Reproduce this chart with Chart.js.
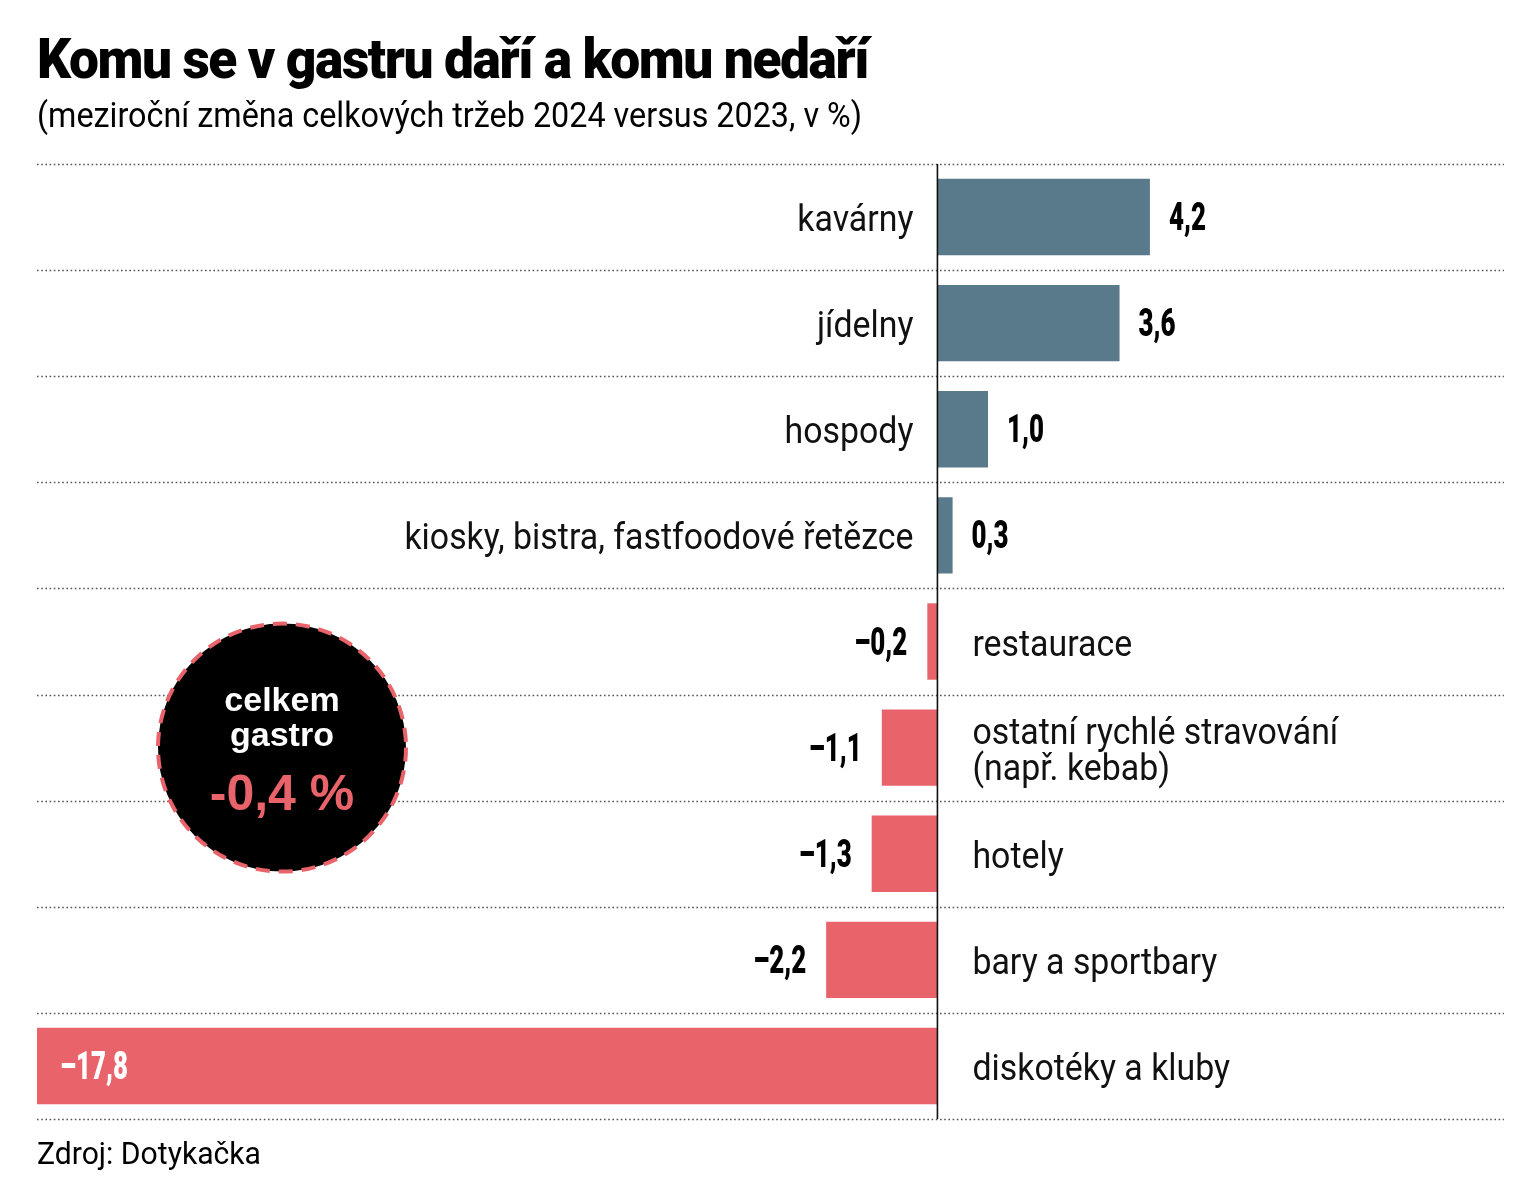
<!DOCTYPE html>
<html lang="cs"><head><meta charset="utf-8">
<script src="https://cdn.jsdelivr.net/npm/chart.js@4.4.1/dist/chart.umd.min.js"></script>
<style>
html,body{margin:0;padding:0;background:#fff;}
body{width:1536px;height:1199px;position:relative;overflow:hidden;}
#c{position:absolute;left:0;top:0;}
.t{position:absolute;left:37px;white-space:nowrap;line-height:1;transform-origin:0 0;color:#000;font-family:Roboto,"Liberation Sans",sans-serif;}
#title{font-weight:900;font-size:56px;top:31px;letter-spacing:-1.5px;}
#sub{font-weight:400;font-size:35px;top:98px;}
#src{font-weight:400;font-size:31px;top:1138px;}
.ct{position:absolute;left:132px;width:300px;text-align:center;white-space:nowrap;line-height:1;font-family:"Liberation Sans",Arial,sans-serif;font-weight:700;z-index:2;}
#c1{font-size:34px;top:682px;color:#fff;}
#c2{font-size:34px;top:717px;color:#fff;}
#c3{font-size:50px;top:768px;color:#E9636A;}
</style></head>
<body>
<canvas id="c" width="1536" height="1199"></canvas>
<div class="t" id="title">Komu se v gastru daří a komu nedaří</div>
<div class="t" id="sub">(meziroční změna celkových tržeb 2024 versus 2023, v %)</div>
<div class="t" id="src">Zdroj: Dotykačka</div>
<div class="ct" id="c1">celkem</div>
<div class="ct" id="c2">gastro</div>
<div class="ct" id="c3">-0,4 %</div>
<script>
// ---- data ----
const categories = [
  "kavárny",
  "jídelny",
  "hospody",
  "kiosky, bistra, fastfoodové řetězce",
  "restaurace",
  ["ostatní rychlé stravování", "(např. kebab)"],
  "hotely",
  "bary a sportbary",
  "diskotéky a kluby"
];
const values = [4.2, 3.6, 1.0, 0.3, -0.2, -1.1, -1.3, -2.2, -17.8];
const totalValue = -0.4;
const xMin = -17.8;
const xMax = 11.2;

const POS = '#587A8A', NEG = '#E9636A';

function fmt(v){
  const s = Math.abs(v).toFixed(1).replace('.', ',');
  return v < 0 ? '\u2013' + s : s;
}

function fitWidth(el, target){
  const w = el.getBoundingClientRect().width;
  el.style.transform = 'scaleX(' + (target / w) + ')';
}

function drawText(ctx, text, x, y, align, sx){
  ctx.save();
  ctx.translate(x, y);
  ctx.scale(sx, 1);
  ctx.textAlign = align;
  ctx.textBaseline = 'alphabetic';
  ctx.fillText(text, 0, 0);
  ctx.restore();
}

const CAT_FONT = '400 37px Roboto';
const VAL_FONT = '900 38px Roboto';

const labelPlugin = {
  id: 'labelPlugin',
  beforeDatasetsDraw(chart){
    const ctx = chart.ctx, a = chart.chartArea;
    const n = categories.length, step = (a.bottom - a.top) / n;
    ctx.save();
    ctx.strokeStyle = '#555';
    ctx.lineWidth = 1.5;
    ctx.setLineDash([1.6, 2.6]);
    for (let i = 0; i <= n; i++){
      const y = Math.round(a.top + i * step) + 0.5;
      ctx.beginPath(); ctx.moveTo(a.left, y); ctx.lineTo(a.right, y); ctx.stroke();
    }
    ctx.restore();
  },
  afterDatasetsDraw(chart){
    const ctx = chart.ctx, a = chart.chartArea;
    const xs = chart.scales.x, ys = chart.scales.y;
    const x0 = xs.getPixelForValue(0);
    ctx.save();
    ctx.strokeStyle = '#111'; ctx.lineWidth = 1.6;
    ctx.beginPath(); ctx.moveTo(x0, a.top); ctx.lineTo(x0, a.bottom); ctx.stroke();
    ctx.restore();

    ctx.save();
    ctx.font = CAT_FONT;
    const catSx = 509 / ctx.measureText(categories[3]).width;
    ctx.font = VAL_FONT;
    const valSx = 37 / ctx.measureText(fmt(4.2)).width;
    ctx.restore();

    ctx.save();
    values.forEach((v, i) => {
      const yc = ys.getPixelForValue(i);
      const xb = xs.getPixelForValue(v);
      const lines = Array.isArray(categories[i]) ? categories[i] : [categories[i]];
      ctx.font = CAT_FONT; ctx.fillStyle = '#111';
      lines.forEach((ln, j) => {
        const by = yc + 14 - (lines.length - 1) * 18 + j * 36;
        if (v >= 0) drawText(ctx, ln, x0 - 24, by, 'right', catSx);
        else drawText(ctx, ln, x0 + 35, by, 'left', catSx);
      });
      ctx.font = VAL_FONT;
      const by = yc + 13;
      if (v >= 0){
        ctx.fillStyle = '#000';
        drawText(ctx, fmt(v), xb + 19, by, 'left', valSx);
      } else if (x0 - xb > 200){
        ctx.fillStyle = '#fff';
        drawText(ctx, fmt(v), xb + 23, by, 'left', valSx);
      } else {
        ctx.fillStyle = '#000';
        drawText(ctx, fmt(v), xb - 20, by, 'right', valSx);
      }
    });
    ctx.restore();

    const cx = 282, cy = ys.getPixelForValue(5), r = 124;
    ctx.save();
    ctx.beginPath(); ctx.arc(cx, cy, r, 0, Math.PI * 2);
    ctx.fillStyle = '#000'; ctx.fill();
    ctx.strokeStyle = NEG; ctx.lineWidth = 4; ctx.setLineDash([14, 9]);
    ctx.stroke();
    ctx.restore();
  }
};

function init(){
  fitWidth(document.getElementById('title'), 831);
  fitWidth(document.getElementById('sub'), 825);
  fitWidth(document.getElementById('src'), 224);
  new Chart(document.getElementById('c'), {
    type: 'bar',
    data: {
      labels: categories,
      datasets: [{
        data: values,
        backgroundColor: values.map(v => v >= 0 ? POS : NEG),
        borderWidth: 0,
        barPercentage: 0.72,
        categoryPercentage: 1
      }]
    },
    options: {
      indexAxis: 'y',
      responsive: false,
      animation: false,
      events: [],
      layout: { padding: { left: 37, right: 32, top: 164, bottom: 80 } },
      plugins: { legend: { display: false }, tooltip: { enabled: false }, title: { display: false } },
      scales: {
        x: { type: 'linear', min: xMin, max: xMax, display: false },
        y: { type: 'category', display: false }
      }
    },
    plugins: [labelPlugin]
  });
}

Promise.all([
  document.fonts.load('400 37px Roboto'),
  document.fonts.load('900 38px Roboto'),
  document.fonts.load('700 34px "Liberation Sans"')
]).then(init, init);
</script>
</body></html>
